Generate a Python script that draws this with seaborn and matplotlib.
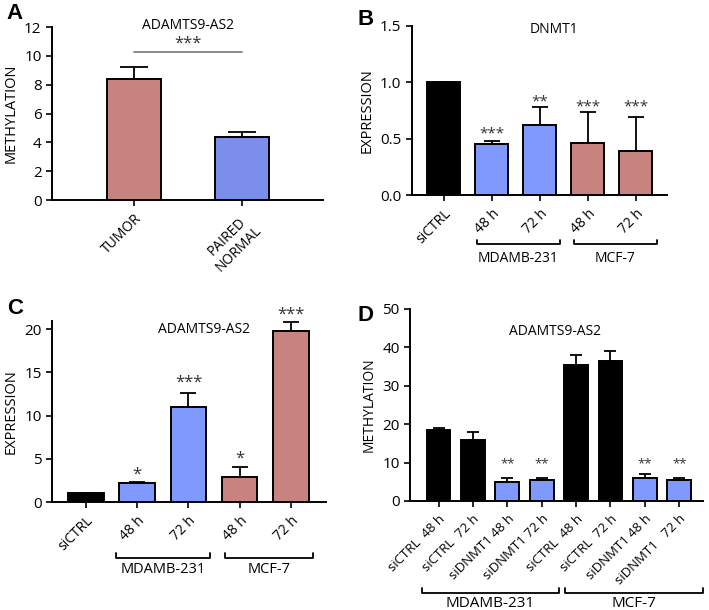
import matplotlib
matplotlib.use("Agg")
import matplotlib.pyplot as plt
import seaborn as sns
import pandas as pd

sns.set_style("white")
plt.rcParams['font.family'] = ['Open Sans', 'DejaVu Sans']
plt.rcParams['text.color'] = 'black'
plt.rcParams['axes.labelcolor'] = 'black'
plt.rcParams['xtick.color'] = 'black'
plt.rcParams['ytick.color'] = 'black'

PINK = "#C6837F"
BLUE_A = "#7B8EEA"
BLUE = "#8099FF"
BLACK = "#000000"

# panel A
a_labels = ["TUMOR", "PAIRED\nNORMAL"]
a_values = [8.4, 4.4]
a_errors = [0.8, 0.3]

# panel B
b_labels = ["siCTRL", "48 h", "72 h", "48 h", "72 h"]
b_values = [1.0, 0.455, 0.62, 0.465, 0.395]
b_errors = [0.0, 0.025, 0.165, 0.27, 0.30]
b_stars = ["", "***", "**", "***", "***"]
b_star_y = [0, 0.54, 0.83, 0.78, 0.78]

# panel C
c_labels = ["siCTRL", "48 h", "72 h", "48 h", "72 h"]
c_values = [1.0, 2.2, 11.05, 2.85, 19.75]
c_errors = [0.0, 0.15, 1.55, 1.15, 1.1]
c_stars = ["", "*", "***", "*", "***"]
c_star_y = [0, 3.2, 13.8, 5.0, 21.7]

# panel D
d_labels = ["siCTRL  48 h", "siCTRL  72 h", "siDNMT1 48 h", "siDNMT1 72 h",
            "siCTRL  48 h", "siCTRL  72 h", "siDNMT1 48 h", "siDNMT1   72 h"]
d_values = [18.5, 16.0, 5.0, 5.5, 35.5, 36.5, 6.0, 5.5]
d_errors = [0.5, 2.0, 1.0, 0.5, 2.5, 2.5, 1.0, 0.5]
d_stars = ["", "", "**", "**", "", "", "**", "**"]
d_star_y = [0, 0, 9.8, 9.8, 0, 0, 9.8, 9.8]

groups = ["MDAMB-231", "MCF-7"]


def bar_panel(ax, labels, values, errors, colors, width, capsize, xfs=10):
    df = pd.DataFrame({"pos": [str(i) for i in range(len(values))], "val": values})
    sns.barplot(data=df, x="pos", y="val", hue="pos", palette=colors, legend=False,
                width=width, saturation=1, edgecolor="black", linewidth=1.4, ax=ax)
    xs = range(len(values))
    ax.errorbar(xs, values, yerr=[[0] * len(values), errors], fmt="none",
                ecolor="black", elinewidth=1.3, capsize=capsize, capthick=1.3, zorder=1)
    ax.set_xticks(list(xs))
    ax.set_xticklabels(labels, rotation=45, ha="right", va="top",
                       rotation_mode="anchor", fontsize=xfs)
    ax.set_xlabel("")
    sns.despine(ax=ax)
    for s in ["left", "bottom"]:
        ax.spines[s].set_linewidth(1.4)
        ax.spines[s].set_color("black")
    ax.tick_params(axis="both", direction="out", length=4, width=1.2,
                   bottom=True, left=True, labelsize=11)
    ax.tick_params(axis="x", labelsize=xfs, pad=4)


def bracket(ax, x0, x1, y, text, ty, fs=10):
    tr = ax.get_xaxis_transform()
    ax.plot([x0, x0, x1, x1], [y + 0.025, y, y, y + 0.025], color="black",
            lw=1.3, transform=tr, clip_on=False)
    ax.text((x0 + x1) / 2, ty, text, transform=tr, ha="center", va="center",
            fontsize=fs)


fig = plt.figure(figsize=(7.09, 6.10), dpi=100)

# ---- A
axA = fig.add_axes([0.0733, 0.672, 0.3823, 0.2837])
bar_panel(axA, a_labels, a_values, a_errors, [PINK, BLUE_A], 0.5, 10)
axA.set_ylim(0, 12)
axA.set_xlim(-0.76, 1.75)
axA.set_yticks(range(0, 13, 2))
axA.set_ylabel("METHYLATION", fontsize=10.5)
axA.plot([0, 1], [10.3, 10.3], color="#777777", lw=1.2)
axA.text(0.5, 10.85, "***", ha="center", va="center", fontsize=12, color="#333333")
axA.text(0.5, 12.1, "ADAMTS9-AS2", ha="center", va="center", fontsize=10)
for t in axA.get_xticklabels():
    t.set_multialignment("center")

# ---- B
axB = fig.add_axes([0.5807, 0.6803, 0.3601, 0.2771])
bar_panel(axB, b_labels, b_values, b_errors, [BLACK, BLUE, BLUE, PINK, PINK], 0.69, 6)
axB.set_ylim(0, 1.5)
axB.set_xlim(-0.67, 4.65)
axB.set_yticks([0, 0.5, 1.0, 1.5])
axB.set_yticklabels(["0.0", "0.5", "1.0", "1.5"])
axB.set_ylabel("EXPRESSION", fontsize=10.5)
axB.text(2.3, 1.47, "DNMT1", ha="center", va="center", fontsize=10)
for i, s in enumerate(b_stars):
    if s:
        axB.text(i, b_star_y[i], s, ha="center", va="center", fontsize=11, color="#333333")
bracket(axB, 0.69, 2.42, -0.29, groups[0], -0.375)
bracket(axB, 2.71, 4.44, -0.29, groups[1], -0.375)

# ---- C
axC = fig.add_axes([0.0733, 0.177, 0.3865, 0.2968])
bar_panel(axC, c_labels, c_values, c_errors, [BLACK, BLUE, BLUE, PINK, PINK], 0.69, 6)
axC.set_ylim(0, 20.96)
axC.set_xlim(-0.66, 4.68)
axC.set_yticks([0, 5, 10, 15, 20])
axC.set_ylabel("EXPRESSION", fontsize=10.5)
axC.text(2.3, 20, "ADAMTS9-AS2", ha="center", va="center", fontsize=10)
for i, s in enumerate(c_stars):
    if s:
        axC.text(i, c_star_y[i], s, ha="center", va="center", fontsize=12,
                 color="#333333", clip_on=False)
bracket(axC, 0.585, 2.42, -0.309, groups[0], -0.37, fs=10.5)
bracket(axC, 2.71, 4.42, -0.309, groups[1], -0.37, fs=10.5)

# ---- D
axD = fig.add_axes([0.5783, 0.1787, 0.4132, 0.3148])
bar_panel(axD, d_labels, d_values, d_errors,
          [BLACK, BLACK, BLUE, BLUE, BLACK, BLACK, BLUE, BLUE], 0.69, 4.3, xfs=9.5)
axD.set_ylim(0, 50)
axD.set_xlim(-0.83, 7.69)
axD.set_yticks(range(0, 51, 10))
axD.set_ylabel("METHYLATION", fontsize=10)
axD.text(3.4, 44.2, "ADAMTS9-AS2", ha="center", va="center", fontsize=10)
for i, s in enumerate(d_stars):
    if s:
        axD.text(i, d_star_y[i], s, ha="center", va="center", fontsize=9.5, color="#333333")
bracket(axD, -0.49, 3.5, -0.479, groups[0], -0.535, fs=11)
bracket(axD, 3.67, 7.68, -0.479, groups[1], -0.535, fs=11)

# panel letters
for lab, x, y in [("A", 0.021, 0.978), ("B", 0.516, 0.968), ("C", 0.021, 0.495), ("D", 0.516, 0.483)]:
    fig.text(x, y, lab, fontsize=16, fontweight="bold", ha="center", va="center",
             family="Liberation Sans")

fig.savefig("out.png", dpi=100)
